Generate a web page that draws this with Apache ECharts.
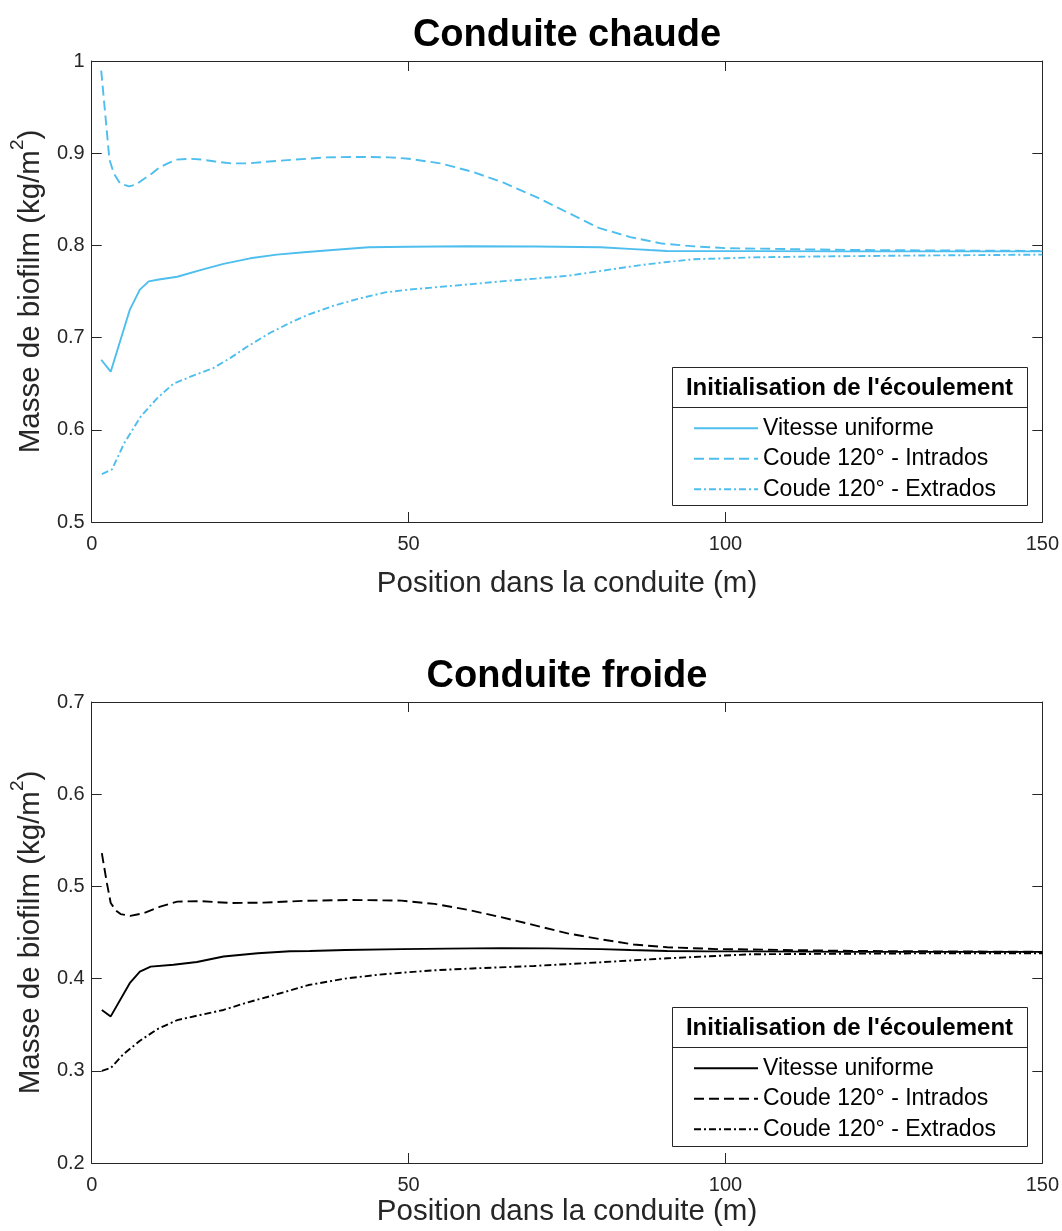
<!DOCTYPE html>
<html>
<head>
<meta charset="utf-8">
<script src="https://cdn.jsdelivr.net/npm/echarts@6/dist/echarts.min.js"></script>
<style>
html,body{margin:0;padding:0;background:#fff;}
#chart{width:1062px;height:1231px;}
</style>
</head>
<body>
<div id="chart"></div>
<script>
// ---------- Data ----------
const xTicks = [0, 50, 100, 150];
const legendLabels = ['Vitesse uniforme', 'Coude 120° - Intrados', 'Coude 120° - Extrados'];
const legendTitle = "Initialisation de l'écoulement";
const titles = ['Conduite chaude', 'Conduite froide'];
const xName = 'Position dans la conduite (m)';

// Conduite chaude
const hotUniformX = [1.5, 3, 6, 7.6, 9, 10.6, 13.5, 17, 20.8, 25, 29.2, 33.5, 38, 43.7, 50, 59.4, 70, 80.3, 85.5, 88, 90.8, 95, 104, 120, 135, 150];
const hotUniformY = [0.676, 0.663, 0.730, 0.752, 0.761, 0.763, 0.766, 0.773, 0.780, 0.786, 0.790, 0.7925, 0.795, 0.798, 0.7985, 0.799, 0.7988, 0.798, 0.796, 0.795, 0.794, 0.7938, 0.7938, 0.7935, 0.7935, 0.7935];

const hotIntradosX = [1.5, 2.8, 3.5, 4.5, 5.9, 7, 8, 9.5, 10.6, 12, 13.3, 15.4, 17.5, 19.5, 22, 24.8, 28, 32, 37, 42.5, 47, 50, 55, 60, 65, 70, 75, 80, 85, 90, 95, 100, 110, 120, 135, 150];
const hotIntradosY = [0.9895, 0.893, 0.878, 0.867, 0.864, 0.866, 0.871, 0.878, 0.884, 0.889, 0.893, 0.894, 0.893, 0.891, 0.889, 0.889, 0.891, 0.893, 0.8955, 0.896, 0.8955, 0.894, 0.889, 0.880, 0.868, 0.853, 0.836, 0.819, 0.809, 0.802, 0.799, 0.797, 0.796, 0.795, 0.7945, 0.794];

const hotExtradosX = [1.6, 3.2, 5.1, 7.7, 10.3, 12.9, 16.1, 19.2, 21.9, 24.5, 28.1, 31.3, 34.2, 38.4, 42, 46.3, 50, 54.1, 60, 64.6, 70, 75.1, 80, 83, 87, 90.8, 95, 100, 104, 115, 130, 150];
const hotExtradosY = [0.552, 0.557, 0.585, 0.614, 0.634, 0.650, 0.659, 0.667, 0.678, 0.690, 0.705, 0.716, 0.725, 0.735, 0.742, 0.749, 0.752, 0.7545, 0.758, 0.761, 0.764, 0.767, 0.772, 0.775, 0.779, 0.782, 0.785, 0.786, 0.787, 0.788, 0.789, 0.790];

// Conduite froide
const coldUniformX = [1.6, 3, 6, 7.6, 9.3, 12.9, 16.6, 20.8, 26.2, 31.3, 34.4, 40, 48.9, 56, 64.6, 72, 80.3, 85, 90.8, 97, 104, 120, 135, 150];
const coldUniformY = [0.366, 0.359, 0.395, 0.4075, 0.413, 0.415, 0.418, 0.424, 0.4275, 0.4296, 0.430, 0.431, 0.432, 0.4325, 0.433, 0.4328, 0.432, 0.431, 0.430, 0.4295, 0.4295, 0.429, 0.429, 0.429];

const coldIntradosX = [1.6, 2.4, 3, 3.8, 4.56, 6.1, 8.2, 10.8, 13.5, 17.1, 21.9, 27.1, 33.4, 41, 48.9, 54.1, 59.4, 64.6, 69.8, 75.1, 80.3, 85.5, 90.8, 98.7, 104, 120, 135, 150];
const coldIntradosY = [0.536, 0.5035, 0.482, 0.474, 0.470, 0.468, 0.471, 0.478, 0.4835, 0.484, 0.482, 0.4824, 0.4843, 0.4853, 0.4846, 0.481, 0.4745, 0.4666, 0.458, 0.449, 0.4427, 0.437, 0.434, 0.432, 0.4316, 0.430, 0.4295, 0.429];

const coldExtradosX = [1.6, 3, 5, 7.5, 10.3, 13.5, 17.1, 20.8, 24.5, 28.7, 34.2, 40, 45, 50, 54.1, 60, 69.8, 80.3, 90.8, 104, 120, 135, 150];
const coldExtradosY = [0.300, 0.303, 0.318, 0.332, 0.345, 0.355, 0.3605, 0.366, 0.374, 0.382, 0.393, 0.400, 0.404, 0.407, 0.409, 0.411, 0.4137, 0.4177, 0.422, 0.4264, 0.427, 0.4275, 0.4275];

// ---------- Styles ----------
const FONT = "'Liberation Sans', Arial, Helvetica, sans-serif";
const AX = '#262626';
const BLUE = '#4DBEEE';
const BLACK = '#000000';
const DASH = [10, 5];
const DASHDOT = [7, 3, 2, 3];

function pairs(xs, ys) { return xs.map((x, i) => [x, ys[i]]); }

const grids = [
  { left: 89, top: 61, width: 954, height: 461 },
  { left: 89, top: 702, width: 954, height: 461 }
];
const yRanges = [[0.5, 1], [0.2, 0.7]];
const xNameGaps = [47, 34];

const xAxes = [], yAxes = [];
[0, 1].forEach(g => {
  const base = {
    gridIndex: g, type: 'value', min: 0, max: 150, interval: 50,
    axisLine: { show: true, onZero: false, lineStyle: { color: AX, width: 1 } },
    axisTick: { show: true, inside: true, length: 10, lineStyle: { color: AX } },
    splitLine: { show: false }
  };
  xAxes.push(Object.assign({}, base, {
    position: 'bottom',
    axisLabel: { show: true, margin: 12, color: AX, fontSize: 20, fontFamily: FONT },
    name: xName, nameLocation: 'middle', nameGap: xNameGaps[g],
    nameTextStyle: { color: AX, fontSize: 29.5, fontFamily: FONT, verticalAlign: 'top' }
  }));
  xAxes.push(Object.assign({}, base, { position: 'top', axisLabel: { show: false } }));
  const ybase = {
    gridIndex: g, type: 'value', min: yRanges[g][0], max: yRanges[g][1], interval: 0.1,
    axisLine: { show: true, onZero: false, lineStyle: { color: AX, width: 1 } },
    axisTick: { show: true, inside: true, length: 10, lineStyle: { color: AX } },
    splitLine: { show: false }
  };
  yAxes.push(Object.assign({}, ybase, {
    position: 'left',
    axisLabel: { show: true, margin: 7, color: AX, fontSize: 20, fontFamily: FONT },
    name: '{n|Masse de biofilm (kg/m}{s|2}{n|)}',
    nameLocation: 'middle', nameGap: 37, nameRotate: 90,
    nameTextStyle: {
      color: AX, fontFamily: FONT,
      rich: {
        n: { fontSize: 29.5, fontFamily: FONT, color: AX, lineHeight: 38, verticalAlign: 'bottom' },
        s: { fontSize: 19, fontFamily: FONT, color: AX, lineHeight: 38, verticalAlign: 'top' }
      }
    }
  }));
  yAxes.push(Object.assign({}, ybase, { position: 'right', axisLabel: { show: false } }));
});

const seriesDefs = [
  { id: 'c_vu', g: 0, x: hotUniformX, y: hotUniformY, color: BLUE, type: 'solid', label: 0 },
  { id: 'c_in', g: 0, x: hotIntradosX, y: hotIntradosY, color: BLUE, type: DASH, label: 1 },
  { id: 'c_ex', g: 0, x: hotExtradosX, y: hotExtradosY, color: BLUE, type: DASHDOT, label: 2 },
  { id: 'f_vu', g: 1, x: coldUniformX, y: coldUniformY, color: BLACK, type: 'solid', label: 0 },
  { id: 'f_in', g: 1, x: coldIntradosX, y: coldIntradosY, color: BLACK, type: DASH, label: 1 },
  { id: 'f_ex', g: 1, x: coldExtradosX, y: coldExtradosY, color: BLACK, type: DASHDOT, label: 2 }
];
const nameToLabel = {};
seriesDefs.forEach(s => nameToLabel[s.id] = legendLabels[s.label]);

const series = seriesDefs.map(s => ({
  name: s.id, type: 'line',
  xAxisIndex: s.g * 2, yAxisIndex: s.g * 2,
  data: pairs(s.x, s.y),
  symbol: 'none', smooth: false,
  color: s.color,
  lineStyle: { color: s.color, width: 1.9, type: s.type },
  z: 2, animation: false
}));

const legendBoxes = [
  { left: 672, top: 367, width: 355, height: 138 },
  { left: 672, top: 1007, width: 355, height: 139 }
];
const headerH = 40;

const legends = [0, 1].map(g => ({
  orient: 'vertical',
  left: 693, top: legendBoxes[g].top + headerH + 6,
  data: seriesDefs.filter(s => s.g === g).map(s => s.id),
  formatter: n => nameToLabel[n],
  itemWidth: 64, itemHeight: 14, itemGap: 0,
  padding: 0,
  selectedMode: false,
  itemStyle: { color: 'rgba(0,0,0,0)', borderWidth: 0, opacity: 0 },
  textStyle: { fontSize: 23, fontFamily: FONT, color: '#000', lineHeight: 30.5, padding: [0, 0, 0, 0] },
  z: 20
}));

const graphics = [];
legendBoxes.forEach(b => {
  graphics.push({
    type: 'rect', z: 10,
    shape: { x: b.left + 0.5, y: b.top + 0.5, width: b.width, height: b.height },
    style: { fill: '#fff', stroke: AX, lineWidth: 1 }
  });
  graphics.push({
    type: 'line', z: 11,
    shape: { x1: b.left, y1: b.top + headerH + 0.5, x2: b.left + b.width, y2: b.top + headerH + 0.5 },
    style: { stroke: AX, lineWidth: 1 }
  });
  graphics.push({
    type: 'text', z: 11,
    x: b.left + b.width / 2, y: b.top + headerH / 2 + 1,
    style: { text: legendTitle, fill: '#000', font: 'bold 24px ' + FONT, textAlign: 'center', textVerticalAlign: 'middle' }
  });
});

const titleComps = [0, 1].map(g => ({
  text: titles[g],
  left: 562, top: grids[g].top - 49, textAlign: 'center',
  textStyle: { fontSize: 38, fontWeight: 'bold', fontFamily: FONT, color: '#000' }
}));

const chart = echarts.init(document.getElementById('chart'), null, { renderer: 'canvas' });
chart.setOption({
  animation: false,
  backgroundColor: '#fff',
  title: titleComps,
  grid: grids,
  xAxis: xAxes,
  yAxis: yAxes,
  legend: legends,
  graphic: graphics,
  series: series
});
</script>
</body>
</html>
